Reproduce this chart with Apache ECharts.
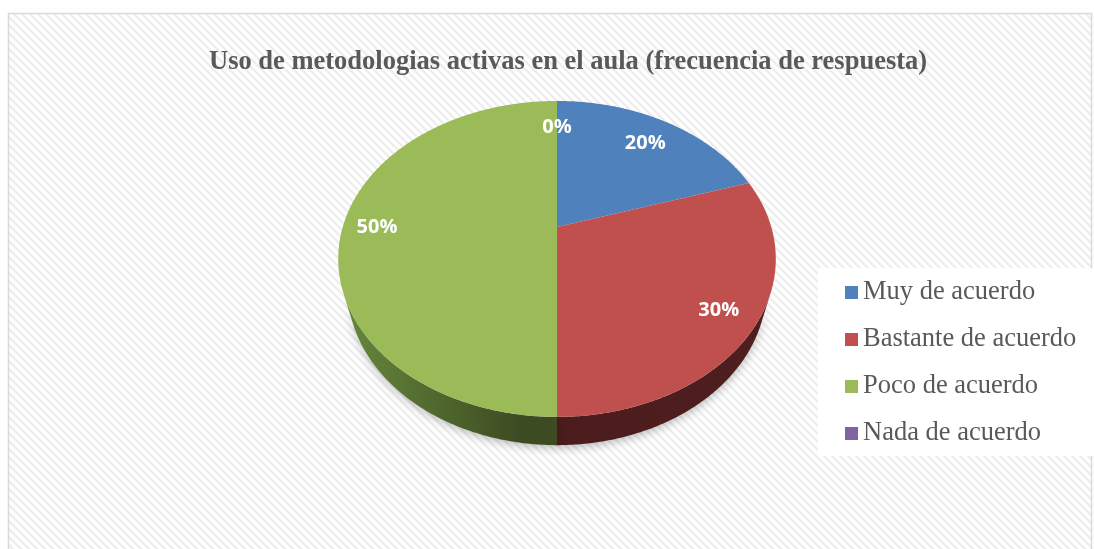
<!DOCTYPE html>
<html>
<head>
<meta charset="utf-8">
<script src="https://cdn.jsdelivr.net/npm/echarts@6/dist/echarts.min.js"></script>
<style>
  html, body { margin: 0; padding: 0; background: #fff; }
  #chart { width: 1094px; height: 549px; }
</style>
</head>
<body>
<div id="chart"></div>
<script>
  // datos del grafico
  const titleText = 'Uso de metodologias activas en el aula (frecuencia de respuesta)';
  const categories = ['Muy de acuerdo', 'Bastante de acuerdo', 'Poco de acuerdo', 'Nada de acuerdo'];
  const values = [20, 30, 50, 0];

  const palette = ['#4f81bd', '#c0504d', '#9bbb59', '#8064a2'];

  // proyeccion en perspectiva del pastel 3D
  const CX = 557, CY = 227;   // centro del pastel en pantalla
  const FOCAL = 750;
  const DIST = 3.5;
  const TILT = Math.PI / 4;
  const COS = Math.cos(TILT), SIN = Math.sin(TILT);
  const DEPTH = 0.21;         // grosor del pastel
  const LABEL_R = 0.84;

  function project(theta, z, r) {
    r = r == null ? 1 : r;
    const x = r * Math.cos(theta), y = r * Math.sin(theta);
    const d = DIST - y * COS - z * SIN;
    return [CX + FOCAL * x / d, CY + FOCAL * (y * SIN - z * COS) / d];
  }

  function arc(a, b, z) {
    const n = Math.max(2, Math.ceil(Math.abs(b - a) / 0.01));
    const pts = [];
    for (let k = 0; k <= n; k++) pts.push(project(a + (b - a) * k / n, z));
    return pts;
  }

  const total = values.reduce((s, v) => s + v, 0);
  const visFrom = Math.asin(1 / (DIST * COS));
  const visTo = Math.PI - visFrom;

  // colores de las caras laterales
  const sideFill = [
    '#2f4b6e',
    { type: 'linear', global: true, x: 557, y: 0, x2: 770, y2: 0,
      colorStops: [{ offset: 0, color: '#4c1c1d' }, { offset: 1, color: '#4f1f1f' }] },
    { type: 'linear', global: true, x: 345, y: 0, x2: 520, y2: 0,
      colorStops: [{ offset: 0, color: '#66873c' }, { offset: 1, color: '#3d4b22' }] },
    '#4a3a5e'
  ];

  function makeRender(i) {
    return function (params, api) {
      const v = api.value(0);
      let before = 0;
      for (let j = 0; j < i; j++) before += values[j];
      const start = -Math.PI / 2 + 2 * Math.PI * before / total;
      const end = start + 2 * Math.PI * v / total;
      const children = [];

      const lo = Math.max(start, visFrom), hi = Math.min(end, visTo);
      if (lo < hi) {
        const side = arc(lo, hi, 0).concat(arc(hi, lo, -DEPTH));
        children.push({
          type: 'polygon',
          shape: { points: side },
          style: { fill: sideFill[i], shadowColor: 'rgba(0,0,0,0.25)', shadowBlur: 8, shadowOffsetY: 3 }
        });
      }
      if (v > 0) {
        children.push({
          type: 'polygon',
          shape: { points: [[CX, CY]].concat(arc(start, end, 0)) },
          style: { fill: palette[i] }
        });
      }
      const mid = (start + end) / 2;
      const p = project(mid, 0, LABEL_R);
      // las etiquetas superiores quedan algo mas abajo en el original
      const dy = Math.max(0, -Math.sin(mid)) * 9;
      children.push({
        type: 'text',
        x: p[0] - Math.max(0, -Math.sin(mid)) * Math.cos(mid) * 10,
        y: p[1] + dy,
        style: {
          text: Math.round(v / total * 100) + '%',
          fill: '#ffffff',
          font: 'bold 20px "Open Sans"',
          align: 'center',
          verticalAlign: 'middle'
        }
      });
      return { type: 'group', children: children };
    };
  }

  // fondo rayado
  const tile = document.createElement('canvas');
  tile.width = 8; tile.height = 8;
  const ctx = tile.getContext('2d');
  ctx.fillStyle = '#ffffff';
  ctx.fillRect(0, 0, 8, 8);
  ctx.strokeStyle = '#eeeeee';
  ctx.lineWidth = 2.4;
  ctx.beginPath();
  ctx.moveTo(-2, -2); ctx.lineTo(10, 10);
  ctx.moveTo(-10, -2); ctx.lineTo(2, 10);
  ctx.moveTo(6, -2); ctx.lineTo(18, 10);
  ctx.stroke();

  const chart = echarts.init(document.getElementById('chart'), null, { renderer: 'canvas' });

  const series = categories.map((name, i) => ({
    name: name,
    type: 'custom',
    coordinateSystem: 'none',
    itemStyle: { color: palette[i] },
    data: [[values[i]]],
    renderItem: makeRender(i),
    silent: true
  }));

  const option = {
    animation: false,
    backgroundColor: '#ffffff',
    graphic: [
      {
        type: 'rect',
        z: -10,
        shape: { x: 8.5, y: 13.5, width: 1083, height: 545 },
        style: { fill: { image: tile, repeat: 'repeat' }, stroke: '#d9d9d9', lineWidth: 1.5 }
      }
    ],
    title: {
      text: titleText,
      left: 204,
      top: 44,
      textStyle: {
        fontFamily: 'Liberation Serif',
        fontWeight: 'bold',
        fontSize: 26.5,
        color: '#595959'
      }
    },
    legend: {
      orient: 'vertical',
      left: 818,
      top: 268,
      data: categories,
      icon: 'rect',
      itemWidth: 13,
      itemHeight: 13,
      itemGap: 20,
      backgroundColor: '#ffffff',
      padding: [11, 17, 9, 27],
      textStyle: {
        fontFamily: 'Liberation Serif',
        fontSize: 26.5,
        color: '#595959'
      }
    },
    series: series
  };

  chart.setOption(option);
</script>
</body>
</html>
